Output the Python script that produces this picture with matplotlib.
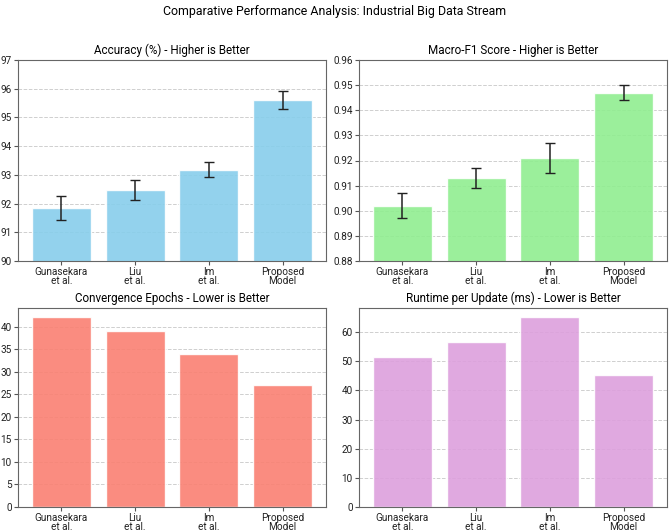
import matplotlib
matplotlib.use("Agg")
import matplotlib.pyplot as plt
import matplotlib.ticker as mticker
import numpy as np

plt.rcParams['font.family'] = ['Roboto', 'DejaVu Sans']

methods = ["Gunasekara\net al.", "Liu\net al.", "Im\net al.", "Proposed\nModel"]
accuracy = [91.85, 92.47, 93.18, 95.61]
accuracy_err = [0.42, 0.35, 0.27, 0.31]
f1 = [0.902, 0.913, 0.921, 0.947]
f1_err = [0.005, 0.004, 0.006, 0.003]
epochs = [42, 39, 34, 27]
runtime = [51.3, 56.7, 65.0, 45.4]

W, H = 669, 532
fig = plt.figure(figsize=(W / 100, H / 100), dpi=100)

def pos(x0, x1, y0, y1):
    return [x0 / W, 1 - y1 / H, (x1 - x0) / W, (y1 - y0) / H]

ax1 = fig.add_axes(pos(18, 326, 60, 261))
ax2 = fig.add_axes(pos(359, 667, 60, 261))
ax3 = fig.add_axes(pos(18, 326, 308, 507))
ax4 = fig.add_axes(pos(359, 667, 308, 507))
x = np.arange(len(methods))

def style(ax, title, step):
    ax.set_title(title, fontsize=8.4, pad=4)
    ax.set_xticks(x)
    ax.set_xticklabels(methods, fontsize=7.2, linespacing=0.88)
    ax.tick_params(axis='both', labelsize=7.2, length=3, color='#555555', labelcolor='#222222', pad=1.5)
    ax.yaxis.set_major_locator(mticker.MultipleLocator(step))
    ax.yaxis.grid(True, linestyle='--', alpha=0.6, linewidth=0.7)
    ax.set_axisbelow(True)
    for s in ax.spines.values():
        s.set_color('#666666')

ekw = dict(ecolor='#222222', elinewidth=1.1, capthick=1.0)
ax1.bar(x, accuracy, yerr=accuracy_err, capsize=3.5, color='skyblue', edgecolor='white', alpha=0.9, error_kw=ekw)
ax1.set_ylim(90, 97)
style(ax1, "Accuracy (%) - Higher is Better", 1)

ax2.bar(x, f1, yerr=f1_err, capsize=3.5, color='lightgreen', edgecolor='white', alpha=0.9, error_kw=ekw)
ax2.set_ylim(0.88, 0.96)
style(ax2, "Macro-F1 Score - Higher is Better", 0.01)
ax2.yaxis.set_major_formatter(mticker.FormatStrFormatter('%.2f'))

ax3.bar(x, epochs, color='salmon', edgecolor='white', alpha=0.9)
style(ax3, "Convergence Epochs - Lower is Better", 5)

ax4.bar(x, runtime, color='plum', edgecolor='white', alpha=0.9)
style(ax4, "Runtime per Update (ms) - Lower is Better", 10)

fig.suptitle("Comparative Performance Analysis: Industrial Big Data Stream", fontsize=8.9, y=1 - 12 / H, va='center')
fig.savefig("out.png", dpi=100)
